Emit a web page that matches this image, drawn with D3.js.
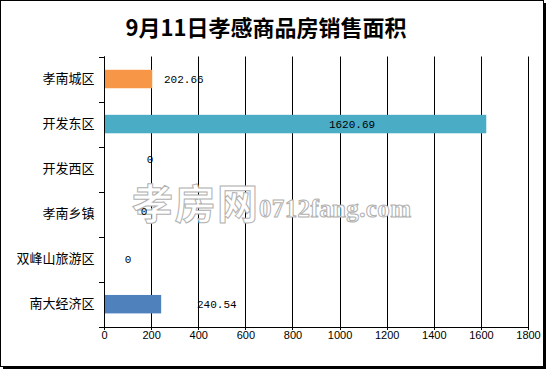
<!DOCTYPE html>
<html><head><meta charset="utf-8">
<script src="https://cdn.jsdelivr.net/npm/d3@7/dist/d3.min.js"></script>
<style>html,body{margin:0;padding:0;background:#fff;}svg{display:block;}</style>
</head><body>
<svg id="c" width="546" height="369"></svg>
<script>
const title = "9月11日孝感商品房销售面积";
const categories = ["孝南城区","开发东区","开发西区","孝南乡镇","双峰山旅游区","南大经济区"];
const values = [202.66, 1620.69, 0, 0, 0, 240.54];
const valueLabels = ["202.66","1620.69","0","0","0","240.54"];
const barColors = ["#F79646","#4BACC6",null,null,null,"#4F81BD"];
const xTicks = [0,200,400,600,800,1000,1200,1400,1600,1800];

const svg = d3.select("#c");
const W = 546, H = 369;
// frame with shadow
svg.append("rect").attr("x",0).attr("y",0).attr("width",W).attr("height",H).attr("fill","#fff");
svg.append("rect").attr("x",3).attr("y",366).attr("width",W-3).attr("height",3).attr("fill","#000");
svg.append("rect").attr("x",543).attr("y",3).attr("width",3).attr("height",H-3).attr("fill","#000");
svg.append("rect").attr("x",0.5).attr("y",0.5).attr("width",543).attr("height",366).attr("fill","none").attr("stroke","#000").attr("stroke-width",1);

svg.append("text").attr("x",266).attr("y",36).attr("text-anchor","middle")
  .attr("font-family","'Noto Sans CJK SC','Liberation Serif',serif").attr("font-weight","bold")
  .attr("font-size",22).attr("fill","#000").text(title);

const x = d3.scaleLinear().domain([0,1800]).range([104,528]);
const y = d3.scaleBand().domain(categories).range([56.5,326.7]).padding(0);

// gridlines
const g = svg.append("g");
g.selectAll("line.grid").data(xTicks).join("line")
  .attr("x1",d=>Math.round(x(d))+0.5).attr("x2",d=>Math.round(x(d))+0.5)
  .attr("y1",56.5).attr("y2",330).attr("stroke","#000").attr("stroke-width",1);

// bars
const bh = y.bandwidth()*0.41;
g.selectAll("rect.bar").data(categories).join("rect")
  .attr("x",x(0)+0.5).attr("y",(d,i)=>y(d)+y.bandwidth()/2-bh/2)
  .attr("width",(d,i)=>Math.max(0,x(values[i])-x(0)))
  .attr("height",bh).attr("fill",(d,i)=>barColors[i]||"none");

// x axis
const xAxis = d3.axisBottom(x).tickValues(xTicks).tickSize(0).tickPadding(0).tickFormat(d3.format("d"));
const xa = svg.append("g").attr("transform","translate(0,327)").call(xAxis);
xa.select(".domain").remove();
xa.selectAll("text").attr("font-family","'Liberation Sans',Arial,sans-serif").attr("font-size",11).attr("fill","#000").attr("dy","0.7em").attr("y",4);
svg.append("line").attr("x1",104).attr("x2",528.5).attr("y1",327.5).attr("y2",327.5).attr("stroke","#000");

// y axis
const yAxis = d3.axisLeft(y).tickSize(0).tickPadding(10);
const ya = svg.append("g").attr("transform","translate(104.5,0)").call(yAxis);
ya.select(".domain").remove();
ya.selectAll("text").attr("font-family","'Noto Sans CJK SC',sans-serif").attr("font-size",13).attr("fill","#000");
svg.append("line").attr("x1",104.5).attr("x2",104.5).attr("y1",56.5).attr("y2",327.5).attr("stroke","#000");
const bounds = categories.map(c=>y(c)).concat([y.range()[1]]);
svg.selectAll("line.ytick").data(bounds).join("line")
  .attr("x1",99).attr("x2",104.5).attr("y1",d=>Math.round(d)+0.5).attr("y2",d=>Math.round(d)+0.5).attr("stroke","#000");

// watermark
const wm = svg.append("g").attr("fill","#fff").attr("stroke","#b0b0b0").attr("stroke-width",1);
wm.append("text").attr("x",132).attr("y",219).attr("font-family","'Noto Sans CJK SC',sans-serif").attr("font-size",41).attr("font-weight","bold").attr("textLength",126).text("孝房网");
wm.append("text").attr("x",259).attr("y",217).attr("font-family","'Liberation Serif',serif").attr("font-size",25).attr("font-weight","bold").attr("textLength",152).text("0712fang.com");

// value labels (Excel placed them manually)
const labelPos = [[164,"start"],[352,"middle"],[150,"middle"],[144,"middle"],[128,"middle"],[197,"start"]];
const labelDy = [0,0,-10,-3,0,0];
svg.selectAll("text.vl").data(categories).join("text")
  .attr("x",(d,i)=>labelPos[i][0]).attr("text-anchor",(d,i)=>labelPos[i][1])
  .attr("y",(d,i)=>y(d)+y.bandwidth()/2+labelDy[i]).attr("dy","0.35em")
  .attr("font-family","'Liberation Mono',monospace").attr("font-size",11).attr("fill","#000")
  .text((d,i)=>valueLabels[i]);
</script>
</body></html>
